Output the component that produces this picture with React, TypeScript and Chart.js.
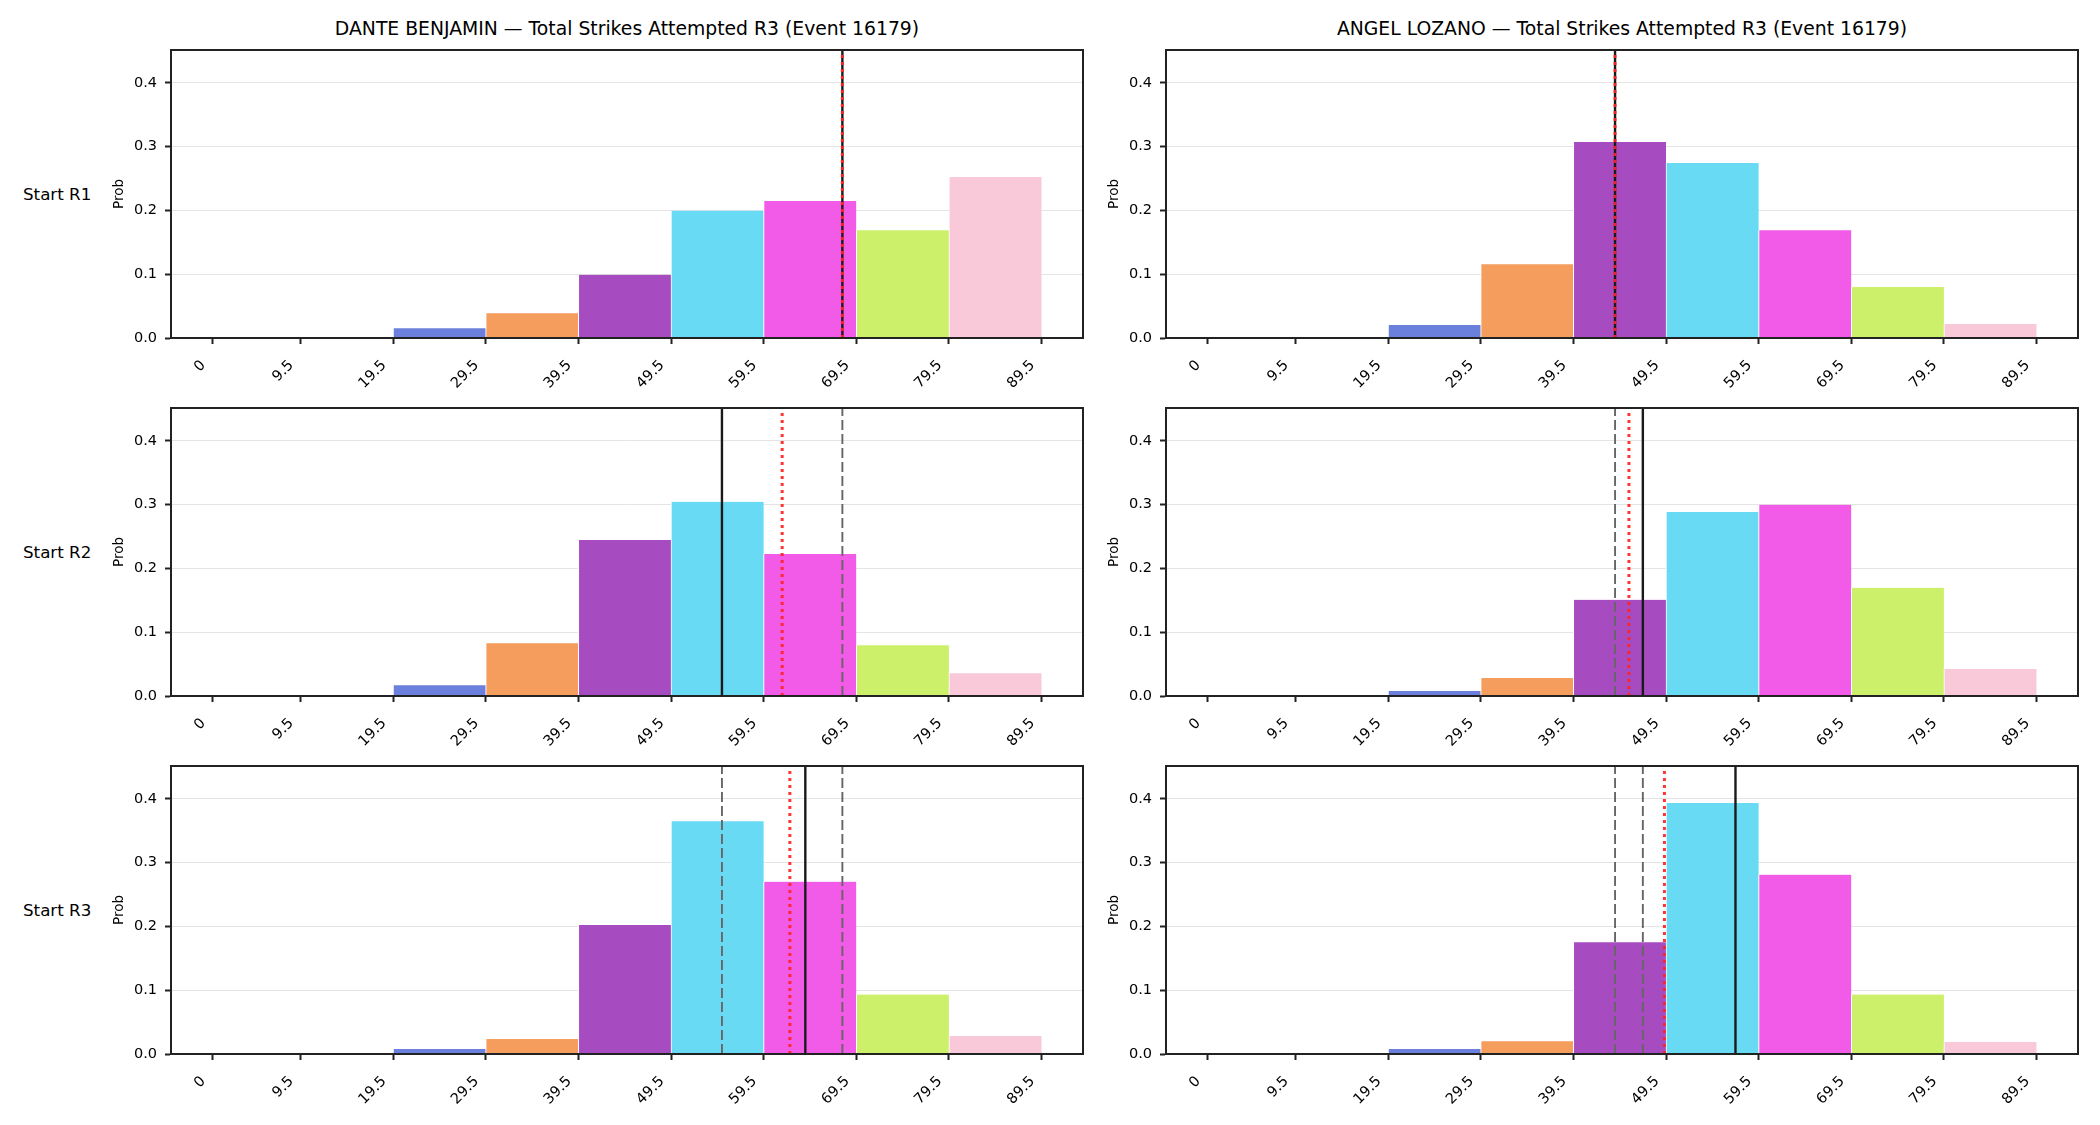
import React, { useEffect, useRef } from "react";
import { Chart, registerables } from "chart.js";

Chart.register(...registerables);

// ---------------- data ----------------
const TICK_VALUES = [0, 9.5, 19.5, 29.5, 39.5, 49.5, 59.5, 69.5, 79.5, 89.5];
const TICK_LABELS = ["0", "9.5", "19.5", "29.5", "39.5", "49.5", "59.5", "69.5", "79.5", "89.5"];

const BIN_LO = [0, 9.5, 19.5, 29.5, 39.5, 49.5, 59.5, 69.5, 79.5];
const BIN_HI = [9.5, 19.5, 29.5, 39.5, 49.5, 59.5, 69.5, 79.5, 89.5];
const BIN_COLORS = [
  "#4c6fd0",
  "#55a0d8",
  "#6b80dd",
  "#f59d5c",
  "#a64cc0",
  "#68daf4",
  "#f25ae8",
  "#cdf06b",
  "#f9c9da",
];

const ROW_LABELS = ["Start R1", "Start R2", "Start R3"];
const TITLES = [
  "DANTE BENJAMIN — Total Strikes Attempted R3 (Event 16179)",
  "ANGEL LOZANO — Total Strikes Attempted R3 (Event 16179)",
];

const DANTE_R1 = [0, 0, 0.0152, 0.0387, 0.099, 0.1995, 0.2147, 0.169, 0.2524];
const DANTE_R2 = [0, 0, 0.0168, 0.0827, 0.2445, 0.3042, 0.2225, 0.0796, 0.0356];
const DANTE_R3 = [0, 0, 0.0079, 0.0237, 0.2021, 0.3647, 0.27, 0.0932, 0.0284];
const ANGEL_R1 = [0, 0, 0.0204, 0.1157, 0.3073, 0.2743, 0.169, 0.0801, 0.022];
const ANGEL_R2 = [0, 0, 0.0079, 0.0283, 0.1508, 0.2885, 0.2995, 0.1696, 0.0424];
const ANGEL_R3 = [0, 0, 0.0079, 0.02, 0.1753, 0.3932, 0.281, 0.0932, 0.0189];

// solid black line for each start round (earlier ones shown dashed grey)
const DANTE_LINES = [68, 55, 64];
const ANGEL_LINES = [44, 47, 57];
// red dotted line for each start round
const DANTE_RED = [68, 61.5, 62.33];
const ANGEL_RED = [44, 45.5, 49.33];

const X_MIN = -4.475;
const X_MAX = 93.975;
const Y_MAX = 0.4513;

// ---------------- layout ----------------
const COL_LEFT = [171, 1166];
const ROW_TOP = [50, 408, 766];
const CHART_W = 912;
const CHART_H = 288;
const Y_AXIS_W = 60;
const PAD_TOP = 20;
const PAD_RIGHT = 20;
const X_AXIS_H = 70;
const FONT = "'DejaVu Sans', 'Liberation Sans', sans-serif";
const SPINE = "#222222";
const PX_PER_UNIT = CHART_W / (X_MAX - X_MIN);

const PLAYERS = [
  { probs: [DANTE_R1, DANTE_R2, DANTE_R3], lines: DANTE_LINES, red: DANTE_RED },
  { probs: [ANGEL_R1, ANGEL_R2, ANGEL_R3], lines: ANGEL_LINES, red: ANGEL_RED },
];

const framePlugin = {
  id: "frame",
  afterDraw(chart: any) {
    const { ctx, chartArea } = chart;
    ctx.save();
    ctx.strokeStyle = SPINE;
    ctx.lineWidth = 2;
    ctx.strokeRect(chartArea.left, chartArea.top, chartArea.right - chartArea.left, chartArea.bottom - chartArea.top);
    ctx.restore();
  },
};

function vline(x: number, color: string, width: number, dash: number[], order: number) {
  return {
    type: "line",
    xAxisID: "x",
    yAxisID: "y",
    data: [
      { x, y: 0 },
      { x, y: Y_MAX },
    ],
    borderColor: color,
    borderWidth: width,
    borderDash: dash,
    borderCapStyle: "butt",
    pointRadius: 0,
    fill: false,
    tension: 0,
    order,
  };
}

function buildConfig(probs: number[], solid: number, previous: number[], red: number) {
  const bars: any[] = [];
  const colors: string[] = [];
  let binWidth = 0;
  probs.forEach((p, i) => {
    if (p > 0) {
      bars.push({ x: (BIN_LO[i] + BIN_HI[i]) / 2, y: p });
      colors.push(BIN_COLORS[i]);
      binWidth = BIN_HI[i] - BIN_LO[i];
    }
  });
  const datasets: any[] = [
    {
      type: "bar",
      xAxisID: "x",
      yAxisID: "y",
      data: bars,
      backgroundColor: colors,
      borderColor: "#ffffff",
      borderWidth: { left: 1, right: 0, top: 0, bottom: 0 },
      borderSkipped: false,
      grouped: false,
      barThickness: binWidth * PX_PER_UNIT,
      order: 10,
    },
  ];
  previous.forEach((v) => datasets.push(vline(v, "#666666", 1.9, [10, 4], 5)));
  datasets.push(vline(solid, "#1a1a1a", 2.4, [], 3));
  datasets.push(vline(red, "rgba(255,35,35,0.92)", 3, [3, 4], 1));

  return {
    type: "scatter",
    data: { datasets },
    plugins: [framePlugin],
    options: {
      animation: false,
      responsive: false,
      devicePixelRatio: 1,
      layout: { padding: { top: PAD_TOP, right: PAD_RIGHT, left: 0, bottom: 0 } },
      plugins: { legend: { display: false }, tooltip: { enabled: false } },
      scales: {
        x: {
          type: "linear",
          position: "bottom",
          offset: false,
          min: X_MIN,
          max: X_MAX,
          afterBuildTicks: (axis: any) => {
            axis.ticks = TICK_VALUES.map((value) => ({ value }));
          },
          afterFit: (axis: any) => {
            axis.height = X_AXIS_H;
          },
          ticks: {
            autoSkip: false,
            minRotation: 45,
            maxRotation: 45,
            padding: 13,
            labelOffset: -9,
            color: "#000",
            font: { family: FONT, size: 14.5 },
            callback: (_v: any, i: number) => TICK_LABELS[i],
          },
          grid: {
            display: true,
            offset: false,
            drawOnChartArea: false,
            drawTicks: true,
            tickLength: 6,
            tickColor: SPINE,
            tickWidth: 2,
          },
          border: { display: true, color: SPINE, width: 2 },
        },
        y: {
          type: "linear",
          position: "left",
          min: 0,
          max: Y_MAX,
          afterFit: (axis: any) => {
            axis.width = Y_AXIS_W;
          },
          ticks: {
            stepSize: 0.1,
            includeBounds: false,
            padding: 8,
            color: "#000",
            font: { family: FONT, size: 14.5 },
            callback: (v: any) => Number(v).toFixed(1),
          },
          grid: {
            color: "#e4e4e4",
            lineWidth: 1,
            drawTicks: true,
            tickLength: 6,
            tickColor: SPINE,
            tickWidth: 2,
          },
          border: { display: true, color: SPINE, width: 2 },
          title: {
            display: true,
            text: "Prob",
            color: "#000",
            font: { family: FONT, size: 13.5 },
            padding: { top: 0, bottom: 0 },
          },
        },
      },
    },
  };
}

function Panel({ col, row }: { col: number; row: number }) {
  const ref = useRef<HTMLCanvasElement | null>(null);
  useEffect(() => {
    const player = PLAYERS[col];
    const cfg: any = buildConfig(
      player.probs[row],
      player.lines[row],
      player.lines.slice(0, row),
      player.red[row]
    );
    const chart = new Chart(ref.current as HTMLCanvasElement, cfg);
    return () => chart.destroy();
  }, [col, row]);
  const w = Y_AXIS_W + CHART_W + PAD_RIGHT;
  const h = PAD_TOP + CHART_H + X_AXIS_H;
  return (
    <canvas
      ref={ref}
      width={w}
      height={h}
      style={{
        position: "absolute",
        left: COL_LEFT[col] - Y_AXIS_W,
        top: ROW_TOP[row] - PAD_TOP,
        width: w,
        height: h,
      }}
    />
  );
}

export default function App() {
  return (
    <div
      style={{
        position: "absolute",
        left: 0,
        top: 0,
        width: 2100,
        height: 1125,
        background: "#ffffff",
        overflow: "hidden",
        fontFamily: FONT,
      }}
    >
      {TITLES.map((t, c) => (
        <div
          key={"t" + c}
          style={{
            position: "absolute",
            left: COL_LEFT[c],
            top: 18,
            width: CHART_W,
            textAlign: "center",
            fontSize: 18.8,
            lineHeight: "22px",
            color: "#000",
            whiteSpace: "nowrap",
          }}
        >
          {t}
        </div>
      ))}
      {ROW_LABELS.map((t, r) => (
        <div
          key={"r" + r}
          style={{
            position: "absolute",
            left: 23,
            top: ROW_TOP[r] + CHART_H / 2 + 5.3 - 15.8,
            fontSize: 16.7,
            lineHeight: "20px",
            color: "#000",
            whiteSpace: "nowrap",
          }}
        >
          {t}
        </div>
      ))}
      {[0, 1].map((c) => [0, 1, 2].map((r) => <Panel key={c + "-" + r} col={c} row={r} />))}
    </div>
  );
}
